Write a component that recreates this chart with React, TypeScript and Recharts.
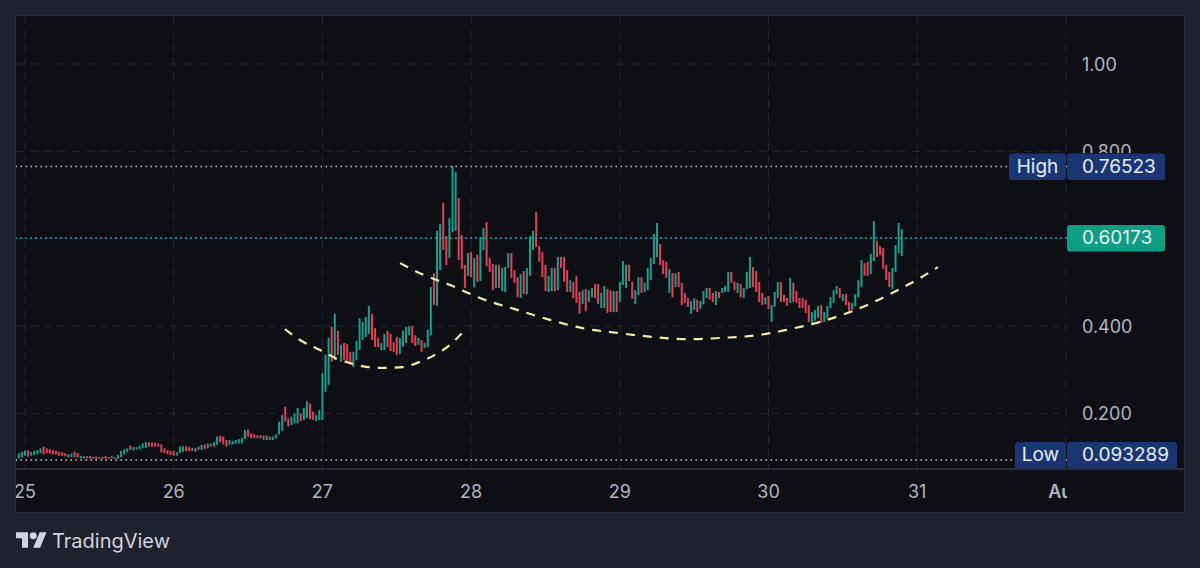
import React from "react";
import {
  Bar,
  CartesianGrid,
  ComposedChart,
  Line,
  ReferenceLine,
  XAxis,
  YAxis,
} from "recharts";

// half-hour candles, first one is 23:00 on the 24th
const firstCandle = 24 + 23 / 24;
const candlesPerDay = 48;

const candleLows = [
  0.097, 0.099, 0.103, 0.101, 0.103, 0.105, 0.106, 0.109, 0.106, 0.109, 0.108, 0.106, 0.106, 0.103, 0.103, 0.101,
  0.099, 0.1, 0.1, 0.099, 0.097, 0.097, 0.097, 0.096, 0.096, 0.096, 0.096, 0.096, 0.096, 0.096, 0.097, 0.096,
  0.096, 0.1, 0.106, 0.111, 0.116, 0.115, 0.117, 0.118, 0.12, 0.121, 0.124, 0.124, 0.124, 0.124, 0.111, 0.109,
  0.106, 0.105, 0.103, 0.103, 0.109, 0.112, 0.114, 0.114, 0.114, 0.112, 0.116, 0.116, 0.118, 0.12, 0.124, 0.124,
  0.128, 0.134, 0.129, 0.124, 0.128, 0.129, 0.13, 0.131, 0.131, 0.141, 0.147, 0.143, 0.143, 0.143, 0.143, 0.14,
  0.139, 0.139, 0.139, 0.143, 0.152, 0.16, 0.181, 0.17, 0.173, 0.177, 0.177, 0.182, 0.185, 0.19, 0.187, 0.185,
  0.182, 0.185, 0.185, 0.249, 0.265, 0.318, 0.322, 0.334, 0.318, 0.322, 0.318, 0.315, 0.306, 0.322, 0.345, 0.368,
  0.375, 0.382, 0.368, 0.352, 0.352, 0.345, 0.345, 0.352, 0.343, 0.341, 0.334, 0.336, 0.352, 0.361, 0.379, 0.361,
  0.354, 0.357, 0.341, 0.35, 0.352, 0.379, 0.448, 0.446, 0.528, 0.574, 0.54, 0.556, 0.615, 0.618, 0.551, 0.531,
  0.487, 0.515, 0.512, 0.489, 0.501, 0.503, 0.574, 0.537, 0.524, 0.482, 0.487, 0.487, 0.48, 0.478, 0.533, 0.51,
  0.499, 0.466, 0.464, 0.473, 0.473, 0.515, 0.574, 0.581, 0.547, 0.512, 0.48, 0.478, 0.48, 0.48, 0.482, 0.533,
  0.501, 0.478, 0.478, 0.464, 0.453, 0.428, 0.45, 0.434, 0.455, 0.466, 0.464, 0.45, 0.441, 0.441, 0.43, 0.432,
  0.432, 0.432, 0.455, 0.494, 0.487, 0.503, 0.462, 0.45, 0.471, 0.476, 0.478, 0.482, 0.505, 0.542, 0.558, 0.54,
  0.519, 0.51, 0.476, 0.466, 0.489, 0.489, 0.448, 0.453, 0.444, 0.428, 0.437, 0.432, 0.439, 0.45, 0.464, 0.46,
  0.455, 0.448, 0.464, 0.476, 0.478, 0.478, 0.499, 0.482, 0.476, 0.466, 0.464, 0.485, 0.487, 0.489, 0.478, 0.455,
  0.448, 0.45, 0.439, 0.409, 0.444, 0.464, 0.455, 0.455, 0.446, 0.453, 0.455, 0.453, 0.441, 0.441, 0.43, 0.409,
  0.402, 0.412, 0.418, 0.407, 0.409, 0.418, 0.441, 0.453, 0.473, 0.464, 0.457, 0.448, 0.434, 0.437, 0.446, 0.466,
  0.489, 0.515, 0.515, 0.519, 0.549, 0.558, 0.563, 0.531, 0.505, 0.489, 0.485, 0.524, 0.567, 0.56,
];

const candleHighs = [
  0.109, 0.112, 0.115, 0.115, 0.112, 0.114, 0.116, 0.12, 0.124, 0.12, 0.118, 0.116, 0.114, 0.112, 0.111, 0.109,
  0.106, 0.108, 0.112, 0.109, 0.103, 0.102, 0.102, 0.102, 0.1, 0.101, 0.1, 0.1, 0.102, 0.1, 0.102, 0.1,
  0.105, 0.114, 0.118, 0.12, 0.126, 0.123, 0.123, 0.126, 0.131, 0.134, 0.134, 0.133, 0.133, 0.131, 0.129, 0.12,
  0.116, 0.114, 0.114, 0.111, 0.124, 0.125, 0.125, 0.123, 0.121, 0.121, 0.124, 0.128, 0.129, 0.131, 0.131, 0.134,
  0.147, 0.149, 0.147, 0.139, 0.139, 0.137, 0.139, 0.141, 0.144, 0.162, 0.163, 0.154, 0.152, 0.15, 0.15, 0.149,
  0.149, 0.147, 0.147, 0.152, 0.181, 0.196, 0.215, 0.189, 0.192, 0.2, 0.212, 0.2, 0.212, 0.228, 0.223, 0.204,
  0.196, 0.208, 0.292, 0.334, 0.373, 0.398, 0.428, 0.389, 0.357, 0.361, 0.359, 0.341, 0.341, 0.366, 0.418, 0.409,
  0.421, 0.446, 0.428, 0.395, 0.373, 0.361, 0.382, 0.389, 0.382, 0.363, 0.375, 0.373, 0.389, 0.398, 0.4, 0.4,
  0.379, 0.373, 0.368, 0.361, 0.391, 0.489, 0.521, 0.618, 0.634, 0.682, 0.606, 0.647, 0.766, 0.753, 0.693, 0.608,
  0.54, 0.567, 0.57, 0.556, 0.563, 0.604, 0.624, 0.638, 0.556, 0.542, 0.54, 0.54, 0.533, 0.535, 0.567, 0.567,
  0.528, 0.512, 0.519, 0.526, 0.533, 0.606, 0.618, 0.661, 0.583, 0.57, 0.54, 0.515, 0.533, 0.533, 0.558, 0.558,
  0.558, 0.528, 0.505, 0.501, 0.515, 0.478, 0.482, 0.485, 0.482, 0.487, 0.496, 0.496, 0.476, 0.492, 0.485, 0.482,
  0.48, 0.48, 0.501, 0.549, 0.54, 0.54, 0.501, 0.482, 0.512, 0.512, 0.499, 0.533, 0.556, 0.611, 0.636, 0.588,
  0.551, 0.547, 0.531, 0.521, 0.521, 0.524, 0.499, 0.476, 0.464, 0.457, 0.464, 0.46, 0.457, 0.48, 0.487, 0.487,
  0.476, 0.48, 0.478, 0.487, 0.492, 0.524, 0.524, 0.501, 0.499, 0.496, 0.487, 0.524, 0.558, 0.535, 0.526, 0.501,
  0.476, 0.466, 0.469, 0.448, 0.478, 0.501, 0.501, 0.471, 0.464, 0.51, 0.499, 0.48, 0.464, 0.464, 0.46, 0.448,
  0.432, 0.437, 0.446, 0.448, 0.432, 0.446, 0.466, 0.482, 0.492, 0.487, 0.473, 0.473, 0.455, 0.453, 0.473, 0.505,
  0.551, 0.544, 0.547, 0.565, 0.64, 0.595, 0.583, 0.579, 0.54, 0.524, 0.533, 0.585, 0.636, 0.622,
];

// g = up, r = down, eight candles a chunk
const candleDirections = [
  "gggrgggg", "rrrrrrrr", "ggrrggrr", "grrgrrgr", "ggggrggg", "ggrrrrrr", "rrrgggrr", "grggrgrg",
  "grrrgggg", "ggrrrrrg", "rgggggrr", "gggrggrr", "gggggrgr", "grrrgggg", "ggrrrggr", "rrrggggr",
  "rgrgggrg", "grrgggrr", "rgrgrggr", "rrgrgggr", "rrgrgggr", "rrrggrgr", "rrgrrrgr", "ggrrggrr",
  "grgggrrg", "grgggggr", "rrgrgrrr", "rggrgggr", "rgrgggrr", "grgggrrr", "rgrgggrr", "rgrrrrrr",
  "gggrgggg", "grgrrggg", "grrggrrr", "rrgggg",
].join("");

const bottomArcTimes = [26.748, 26.849, 26.984, 27.085, 27.186, 27.307, 27.421, 27.542, 27.656, 27.757, 27.858, 27.965];
const bottomArcPrices = [0.393, 0.368, 0.345, 0.327, 0.315, 0.306, 0.304, 0.306, 0.318, 0.334, 0.357, 0.393];
const wideArcTimes = [
  27.522, 27.656, 27.872, 28.06, 28.309, 28.531, 28.752, 28.988, 29.223, 29.452, 29.694, 29.923, 30.145, 30.393,
  30.615, 30.817, 31.019, 31.14,
];
const wideArcPrices = [
  0.544, 0.521, 0.492, 0.464, 0.437, 0.414, 0.395, 0.384, 0.375, 0.37, 0.373, 0.379, 0.393, 0.414, 0.441, 0.473,
  0.51, 0.535,
];

const dayTicks = [25, 26, 27, 28, 29, 30, 31, 32];
const dayLabels = ["25", "26", "27", "28", "29", "30", "31", "Aug"];
const priceTicks = [0.2, 0.4, 0.8, 1.0];
const gridPrices = [0.2, 0.4, 0.6, 0.8, 1.0];

const highPrice = 0.76523;
const lastPrice = 0.60173;
const lowPrice = 0.093289;

const candles = candleLows.map((low, i) => ({
  t: firstCandle + i / candlesPerDay,
  range: [low, candleHighs[i]],
  up: candleDirections[i] === "g",
}));

const UP = "#1f9c8b";
const DOWN = "#de4355";
const TEXT = "#b2b5be";
const NAVY = "#1a3672";
const ARC = "#f6eba0";
const FONT = "Inter, sans-serif";

// the axis hands back a very thin band on a number scale, so keep the centre and set the width here
const CandleShape = ({ x, y, width, height, payload }: any) => (
  <rect x={x + width / 2 - 1} y={y} width={2} height={height} fill={payload.up ? UP : DOWN} />
);

const DayTick = ({ x, y, payload }: any) => {
  const label = dayLabels[dayTicks.indexOf(payload.value)];
  const isMonth = label === "Aug";
  return (
    <g>
      <clipPath id={`day-clip-${label}`}>
        <rect x={16} y={470} width={1051} height={40} />
      </clipPath>
      <text
        x={x}
        y={y + 22}
        textAnchor="middle"
        fill={TEXT}
        fontSize={18}
        fontWeight={isMonth ? 600 : 400}
        fontFamily={FONT}
        clipPath={`url(#day-clip-${label})`}
      >
        {label}
      </text>
    </g>
  );
};

// 0.800 sits behind the High tag in the original, axis text draws on top here so clip it
const PriceTick = ({ x, y, payload }: any) => {
  const v = payload.value;
  const hidden = v === 0.8;
  return (
    <g>
      {hidden && (
        <clipPath id="price-clip">
          <rect x={1067} y={130} width={117} height={23} />
        </clipPath>
      )}
      <text
        x={x}
        y={y + 7}
        fill={TEXT}
        fontSize={18}
        fontFamily={FONT}
        clipPath={hidden ? "url(#price-clip)" : undefined}
      >
        {v >= 1 ? v.toFixed(2) : v.toFixed(3)}
      </text>
    </g>
  );
};

const PriceTag = ({ viewBox, name, value, fill, left, right, shift = 0 }: any) => {
  const mid = viewBox.y + shift;
  return (
    <g fontFamily={FONT} fontSize={19} fill="#e6ecf5">
      {name && <rect x={left} y={mid - 13} width={1066 - left} height={26.5} rx={3} fill={fill} />}
      <rect x={1067} y={mid - 13} width={right - 1067} height={26.5} rx={3} fill={fill} />
      {name && (
        <text x={(left + 1066) / 2} y={mid + 6.5} textAnchor="middle">
          {name}
        </text>
      )}
      <text x={1082} y={mid + 6.5}>
        {value}
      </text>
    </g>
  );
};

const TvLogo = () => (
  <svg width={31} height={16} viewBox="0 4 36 18" style={{ position: "absolute", left: 16, top: 532 }}>
    <path fill="#d1d4dc" d="M14 22H7V11H0V4h14v18zM28 22h-8l7.5-18h8L28 22z" />
    <circle fill="#d1d4dc" cx="20" cy="8" r="4" />
  </svg>
);

const App = () => {
  return (
    <div
      style={{
        position: "absolute",
        left: 0,
        top: 0,
        width: 1200,
        height: 568,
        overflow: "hidden",
        background: "#1e222d",
      }}
    >
      <div
        style={{
          position: "absolute",
          left: 15,
          top: 15,
          width: 1168,
          height: 496,
          background: "#0d0f14",
          border: "1px solid #2a2e39",
        }}
      />
      <div style={{ position: "absolute", left: 16, top: 468, width: 1168, height: 1.5, background: "#2a2e39" }} />

      <ComposedChart
        width={1200}
        height={568}
        data={candles}
        margin={{ top: 16, right: 16, bottom: 56, left: 16 }}
        style={{ position: "absolute", left: 0, top: 0 }}
      >
        <CartesianGrid
          stroke="#222733"
          strokeDasharray="8 6"
          horizontalValues={gridPrices}
          verticalValues={dayTicks}
        />
        <XAxis
          dataKey="t"
          type="number"
          domain={[24.9395, 32.0073]}
          allowDataOverflow
          ticks={dayTicks}
          interval={0}
          height={44}
          axisLine={false}
          tickLine={false}
          tick={<DayTick />}
        />
        <YAxis
          orientation="right"
          domain={[0.0749, 1.1099]}
          allowDataOverflow
          ticks={priceTicks}
          interval={0}
          width={117}
          axisLine={false}
          tickLine={false}
          tickSize={0}
          tickMargin={15}
          tick={<PriceTick />}
        />
        <Bar dataKey="range" shape={<CandleShape />} isAnimationActive={false} />
        <Line
          data={bottomArcTimes.map((t, i) => ({ t, arc: bottomArcPrices[i] }))}
          dataKey="arc"
          type="monotone"
          stroke={ARC}
          strokeWidth={2.2}
          strokeDasharray="9 8"
          dot={false}
          isAnimationActive={false}
        />
        <Line
          data={wideArcTimes.map((t, i) => ({ t, arc: wideArcPrices[i] }))}
          dataKey="arc"
          type="monotone"
          stroke={ARC}
          strokeWidth={2.2}
          strokeDasharray="9 8"
          dot={false}
          isAnimationActive={false}
        />
        <ReferenceLine
          y={highPrice}
          stroke="#c4c7cf"
          strokeWidth={1.5}
          strokeDasharray="1.5 3.5"
          label={<PriceTag name="High" value="0.76523" fill={NAVY} left={1009} right={1165} />}
        />
        <ReferenceLine
          y={lastPrice}
          stroke="#26a69a"
          strokeWidth={1.5}
          strokeDasharray="2 3"
          label={<PriceTag value="0.60173" fill="#0f9d84" right={1165} />}
        />
        <ReferenceLine
          y={lowPrice}
          stroke="#c4c7cf"
          strokeWidth={1.5}
          strokeDasharray="1.5 3.5"
          label={<PriceTag name="Low" value="0.093289" fill={NAVY} left={1015} right={1177} shift={-5} />}
        />
      </ComposedChart>

      <TvLogo />
      <div
        style={{
          position: "absolute",
          left: 52,
          top: 528,
          fontFamily: FONT,
          fontSize: 20,
          lineHeight: "26px",
          color: "#d1d4dc",
        }}
      >
        TradingView
      </div>
    </div>
  );
};

export default App;
